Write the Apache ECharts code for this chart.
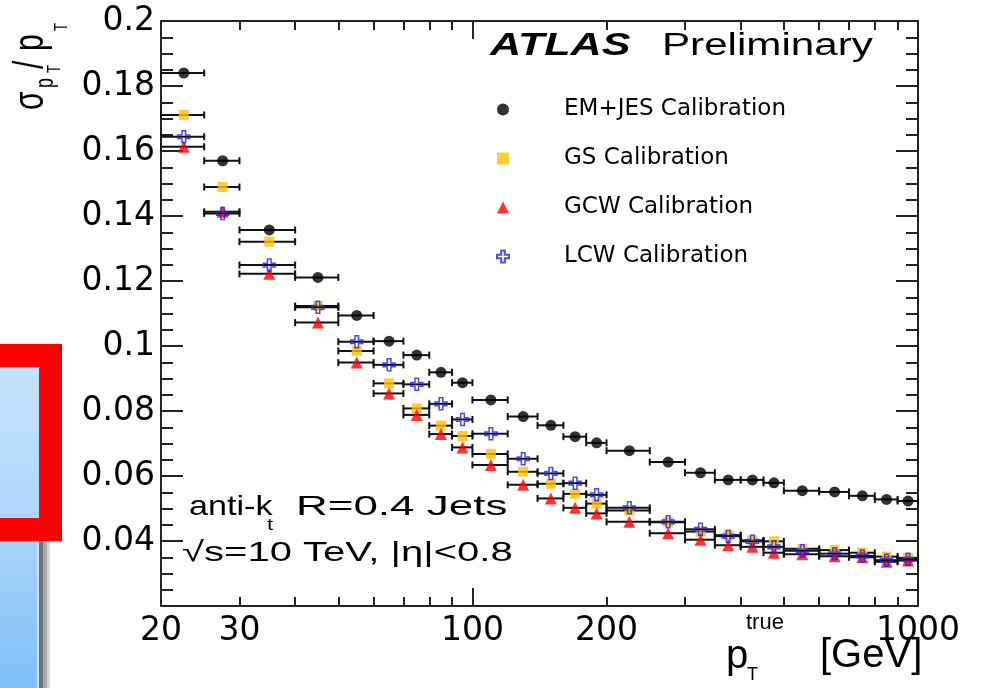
<!DOCTYPE html>
<html>
<head>
<meta charset="utf-8">
<title>Jet pT resolution</title>
<script src="https://cdn.jsdelivr.net/npm/echarts@6.0.0/dist/echarts.min.js"></script>
<style>
  html, body { margin: 0; padding: 0; background: #fff; }
  #chart { width: 981px; height: 688px; }
</style>
</head>
<body>
<div id="chart"></div>
<script>
// pT^true bins [GeV]
const binEdges = [20, 25, 30, 40, 50, 60, 70, 80, 90, 100, 120, 140, 160, 180, 200, 250, 300, 350, 400, 450, 500, 600, 700, 800, 900, 1000];
const binCenters = [22.5, 27.5, 35, 45, 55, 65, 75, 85, 95, 110, 130, 150, 170, 190, 225, 275, 325, 375, 425, 475, 550, 650, 750, 850, 950];

// sigma(pT)/pT per calibration
const emjes = [0.1840, 0.1570, 0.1357, 0.1211, 0.1094, 0.1015, 0.0972, 0.0919, 0.0887, 0.0834, 0.0783, 0.0756, 0.0721, 0.0702, 0.0678, 0.0643, 0.0610, 0.0588, 0.0588, 0.0579, 0.0555, 0.0551, 0.0539, 0.0528, 0.0523];
const gs = [0.1711, 0.1489, 0.1321, 0.1123, 0.0985, 0.0885, 0.0808, 0.0755, 0.0723, 0.0668, 0.0613, 0.0576, 0.0545, 0.0515, 0.0494, 0.0458, 0.0429, 0.0418, 0.0402, 0.0399, 0.0376, 0.0372, 0.0364, 0.0352, 0.0348];
const gcw = [0.1613, 0.1413, 0.1222, 0.1072, 0.0949, 0.0854, 0.0788, 0.0729, 0.0688, 0.0634, 0.0573, 0.0531, 0.0502, 0.0485, 0.0459, 0.0424, 0.0404, 0.0387, 0.0382, 0.0364, 0.0359, 0.0353, 0.0350, 0.0336, 0.0340];
const lcw = [0.1644, 0.1408, 0.1249, 0.1119, 0.1013, 0.0942, 0.0882, 0.0822, 0.0774, 0.0730, 0.0653, 0.0608, 0.0578, 0.0542, 0.0502, 0.0459, 0.0436, 0.0415, 0.0399, 0.0382, 0.0370, 0.0361, 0.0354, 0.0341, 0.0344];

// axis ticks
const xLabels = [20, 30, 100, 200, 1000];
const xMajorTicks = [100, 1000];
const xMinorTicks = [30, 40, 50, 60, 70, 80, 90, 200, 300, 400, 500, 600, 700, 800, 900];

const LABEL_FONT = '"DejaVu Sans", sans-serif';
const TEXT_FONT = '"Liberation Sans", Arial, sans-serif';
const FRAME = '#222';

const chart = echarts.init(document.getElementById('chart'));

//误差棒: 水平方向为分箱宽度
function errBar(params, api) {
  const y = api.value(2);
  const p1 = api.coord([api.value(0), y]);
  const p2 = api.coord([api.value(1), y]);
  const st = { stroke: '#111', lineWidth: 2 };
  return {
    type: 'group',
    children: [
      { type: 'line', shape: { x1: p1[0], y1: p1[1], x2: p2[0], y2: p2[1] }, style: st },
      { type: 'line', shape: { x1: p1[0], y1: p1[1] - 3.5, x2: p1[0], y2: p1[1] + 3.5 }, style: st },
      { type: 'line', shape: { x1: p2[0], y1: p2[1] - 3.5, x2: p2[0], y2: p2[1] + 3.5 }, style: st }
    ]
  };
}

function makeSeries(name, vals, idx, symbol, size, itemStyle) {
  return [
    {
      type: 'custom',
      name: name + ' err',
      renderItem: errBar,
      xAxisIndex: 0,
      yAxisIndex: 0,
      encode: { x: [0, 1], y: 2 },
      z: 2 + idx * 2,
      silent: true,
      data: vals.map((v, i) => [binEdges[i], binEdges[i + 1], v])
    },
    {
      type: 'scatter',
      name: name,
      xAxisIndex: 0,
      yAxisIndex: 0,
      symbol: symbol,
      symbolSize: size,
      symbolKeepAspect: true,
      itemStyle: itemStyle,
      z: 3 + idx * 2,
      data: vals.map((v, i) => [binCenters[i], v])
    }
  ];
}

const crossPath = 'path://M3.5,0 H6.5 V3.5 H10 V6.5 H6.5 V10 H3.5 V6.5 H0 V3.5 H3.5 Z';

function xAxisDef(pos, ticks, len, withLine, withLabel) {
  return {
    type: 'log',
    logBase: 10,
    min: 20,
    max: 1000,
    position: pos,
    axisLine: { show: withLine, lineStyle: { color: FRAME, width: 2 } },
    axisTick: { show: true, inside: true, length: len, customValues: ticks, lineStyle: { color: FRAME, width: 2 } },
    axisLabel: {
      show: withLabel,
      customValues: xLabels,
      color: '#000',
      fontFamily: LABEL_FONT,
      fontSize: 33,
      margin: 9,
      formatter: v => String(Math.round(v))
    },
    splitLine: { show: false }
  };
}

function yAxisDef(pos, withLabel) {
  return {
    type: 'value',
    min: 0.02,
    max: 0.2,
    interval: 0.02,
    position: pos,
    axisLine: { show: true, lineStyle: { color: FRAME, width: 2 } },
    axisTick: { show: true, inside: true, length: 22, lineStyle: { color: FRAME, width: 2 } },
    minorTick: { show: true, splitNumber: 4, length: 12, lineStyle: { color: FRAME, width: 2 } },
    axisLabel: {
      show: withLabel,
      color: '#000',
      fontFamily: LABEL_FONT,
      fontSize: 33,
      margin: 6,
      formatter: v => (v < 0.03 ? '' : String(Math.round(v * 100) / 100))
    },
    splitLine: { show: false }
  };
}

function txt(x, y, text, size, opts) {
  const o = opts || {};
  return {
    type: 'text',
    x: x,
    y: y,
    rotation: o.rotation || 0,
    scaleX: o.scaleX || 1,
    scaleY: o.scaleY || 1,
    z: 20,
    style: {
      text: text,
      fill: '#000',
      fontFamily: TEXT_FONT,
      fontSize: size,
      fontWeight: o.weight || 'normal',
      fontStyle: o.style || 'normal',
      align: 'left',
      verticalAlign: 'middle'
    }
  };
}

const rot = Math.PI / 2;

const option = {
  animation: false,
  backgroundColor: '#fff',
  grid: { left: 161, right: 63, top: 21, bottom: 82, containLabel: false },
  xAxis: [
    xAxisDef('bottom', xMajorTicks, 18, true, true),
    xAxisDef('top', xMajorTicks, 18, true, false),
    xAxisDef('bottom', xMinorTicks, 9, false, false),
    xAxisDef('top', xMinorTicks, 9, false, false)
  ],
  yAxis: [yAxisDef('left', true), yAxisDef('right', false)],
  legend: {
    orient: 'vertical',
    left: 491,
    top: 93,
    itemWidth: 12,
    itemHeight: 12,
    itemGap: 26,
    selectedMode: false,
    textStyle: { color: '#000', fontFamily: LABEL_FONT, fontSize: 23, padding: [0, 0, 0, 50] },
    data: ['EM+JES Calibration', 'GS Calibration', 'GCW Calibration', 'LCW Calibration']
  },
  graphic: [
    // 左侧幻灯片残留
    { type: 'rect', z: 0, shape: { x: 0, y: 344, width: 62, height: 197 }, style: { fill: '#ff0000' } },
    { type: 'rect', z: 1, shape: { x: 0, y: 367, width: 39, height: 151 },
      style: { fill: new echarts.graphic.LinearGradient(0, 0, 0, 1, [{ offset: 0, color: '#c4e3fc' }, { offset: 1, color: '#aed6fa' }]) } },
    { type: 'rect', z: 0, shape: { x: 0, y: 541, width: 37, height: 147 },
      style: { fill: new echarts.graphic.LinearGradient(0, 0, 0, 1, [{ offset: 0, color: '#a6d3f9' }, { offset: 1, color: '#80bff8' }]) } },
    { type: 'rect', z: 0, shape: { x: 37, y: 541, width: 2, height: 147 }, style: { fill: '#c9e2f7' } },
    { type: 'rect', z: 0, shape: { x: 39, y: 541, width: 4, height: 147 }, style: { fill: '#6d7171' } },
    { type: 'rect', z: 0, shape: { x: 43, y: 541, width: 4, height: 147 }, style: { fill: '#a6aaaa' } },
    { type: 'rect', z: 0, shape: { x: 47, y: 541, width: 3, height: 147 }, style: { fill: '#d6d8d8' } },

    // ATLAS Preliminary
    txt(490, 46, 'ATLAS', 31, { weight: 'bold', style: 'italic', scaleX: 1.39 }),
    txt(662, 46, 'Preliminary', 31, { scaleX: 1.36 }),

    // anti-kt R=0.4 Jets
    txt(189, 507, 'anti-k', 28, { scaleX: 1.22 }),
    txt(267, 525, 't', 17, { scaleX: 1.3 }),
    txt(296, 507, 'R=0.4 Jets', 28, { scaleX: 1.57 }),
    txt(182, 553, '√s=10 TeV, |η|<0.8', 28, { scaleX: 1.43 }),

    // x axis title
    txt(726, 657, 'p', 40),
    txt(746, 623, 'true', 22),
    txt(747, 675, 'T', 18),
    txt(820, 656, '[GeV]', 40),

    // y axis title, rotated
    txt(31, 110, 'σ', 30, { rotation: rot, scaleY: 1.4 }),
    txt(46, 88, 'p', 18, { rotation: rot, scaleY: 1.4 }),
    txt(55, 73, 'T', 13, { rotation: rot, scaleY: 1.4 }),
    txt(31, 69, '/', 30, { rotation: rot, scaleY: 1.4 }),
    txt(31, 51, 'p', 30, { rotation: rot, scaleY: 1.4 }),
    txt(62, 31, 'T', 13, { rotation: rot, scaleY: 1.4 })
  ],
  series: [].concat(
    makeSeries('EM+JES Calibration', emjes, 0, 'circle', 11, { color: '#000' }),
    makeSeries('GS Calibration', gs, 1, 'rect', 10, { color: '#ffc000' }),
    makeSeries('GCW Calibration', gcw, 2, 'triangle', 12, { color: '#ff0000' }),
    makeSeries('LCW Calibration', lcw, 3, crossPath, 12, { color: 'rgba(255,255,255,0)', borderColor: '#1c1cff', borderWidth: 1.5 })
  )
};

chart.setOption(option);
</script>
</body>
</html>
